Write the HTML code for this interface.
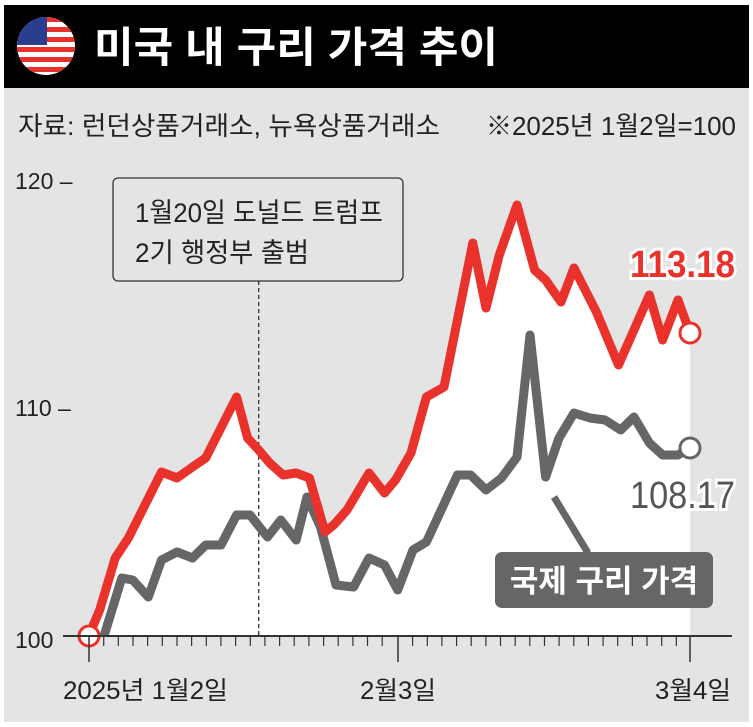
<!DOCTYPE html>
<html><head><meta charset="utf-8"><style>
body{margin:0;width:753px;height:722px;overflow:hidden;background:#fff;font-family:"Liberation Sans","Noto Sans CJK KR",sans-serif}
</style></head><body>
<svg width="753" height="722" viewBox="0 0 753 722" xmlns="http://www.w3.org/2000/svg" style="font-family:'Liberation Sans','Noto Sans CJK KR',sans-serif">
<rect x="4" y="88" width="745" height="634" fill="#e4e4e4"/>
<rect x="4" y="5" width="745" height="83" fill="#000"/>
<defs><clipPath id="fc"><circle cx="46" cy="46" r="29"/></clipPath></defs>
<g clip-path="url(#fc)">
<rect x="15" y="15" width="62" height="62" fill="#fff"/>
<g fill="#e8322b"><rect x="15" y="17" width="62" height="5"/><rect x="15" y="27" width="62" height="5"/><rect x="15" y="37" width="62" height="5"/><rect x="15" y="47" width="62" height="5"/><rect x="15" y="57" width="62" height="5"/><rect x="15" y="67" width="62" height="5"/></g>
<rect x="15" y="15" width="32" height="30" fill="#2a3d8f"/>
</g>
<text x="94" y="62" font-size="42" font-weight="bold" fill="#fff" textLength="404" lengthAdjust="spacingAndGlyphs">미국 내 구리 가격 추이</text>
<text x="18" y="135" font-size="26" fill="#222" textLength="422" lengthAdjust="spacingAndGlyphs">자료: 런던상품거래소, 뉴욕상품거래소</text>
<text x="486" y="135" font-size="26" fill="#222" textLength="250" lengthAdjust="spacingAndGlyphs">※2025년 1월2일=100</text>
<text x="15" y="189" font-size="23" fill="#222">120 –</text>
<text x="15" y="416" font-size="23" fill="#222">110 –</text>
<text x="15" y="648" font-size="23" fill="#222">100</text>
<polygon fill="#fff" points="88.7,636 99.7,610 115.2,558 128.4,538 161.5,472 177,478 192.5,467 205.7,458 236.6,397 247.6,438 258.7,450 269.7,463 283,475 296.2,473 309.4,478 325,532 333.7,525 347,510 369,473 384.5,493 395.5,480 411,453 426.4,397 444,387 472.8,243 486,308 499.3,255 517,205 534.6,270 545.6,280 561,302 574,268 596.4,312 618.5,365 649.4,295 662.6,340 678,300 690,333 690,636"/>
<line x1="258.7" y1="281" x2="258.7" y2="636" stroke="#333" stroke-width="1.3" stroke-dasharray="4,3"/>
<rect x="113" y="178" width="290" height="103" rx="5" fill="#e4e4e4" stroke="#333" stroke-width="1.3"/>
<text x="135" y="222" font-size="27" fill="#222" textLength="248" lengthAdjust="spacingAndGlyphs">1월20일 도널드 트럼프</text>
<text x="135" y="262" font-size="27" fill="#222" textLength="174" lengthAdjust="spacingAndGlyphs">2기 행정부 출범</text>
<polyline fill="none" stroke="#666" stroke-width="9" stroke-linejoin="round" points="104,636 121.8,578 132.8,580 148.3,597 161.5,560 177,552 192.5,558 205.7,545 221,545 236.6,515 250,515 267.5,537 280.8,520 296.2,540 307,497 320.5,527 336,585 353.6,587 369,558 384.5,565 397.7,590 413,550 426.4,542 457.4,475 470.6,475 486,490 501.5,478 517,457 530,335 545.6,477 559,438 574,413 590,418 605,420 620.7,430 634,417 649.4,443 662.6,455 678,455 690,448"/>
<polyline fill="none" stroke="#e8322b" stroke-width="9" stroke-linejoin="round" points="88.7,636 99.7,610 115.2,558 128.4,538 161.5,472 177,478 192.5,467 205.7,458 236.6,397 247.6,438 258.7,450 269.7,463 283,475 296.2,473 309.4,478 325,532 333.7,525 347,510 369,473 384.5,493 395.5,480 411,453 426.4,397 444,387 472.8,243 486,308 499.3,255 517,205 534.6,270 545.6,280 561,302 574,268 596.4,312 618.5,365 649.4,295 662.6,340 678,300 690,333"/>
<line x1="554" y1="497" x2="588" y2="553" stroke="#666" stroke-width="7"/>
<rect x="495" y="552" width="218" height="56" rx="7" fill="#666"/>
<text x="604" y="592" font-size="31" font-weight="bold" fill="#fff" text-anchor="middle">국제 구리 가격</text>
<circle cx="89" cy="636" r="10" fill="#fff" stroke="#e8322b" stroke-width="3"/>
<circle cx="690" cy="333" r="10" fill="#fff" stroke="#e8322b" stroke-width="3"/>
<circle cx="690" cy="448" r="10" fill="#fff" stroke="#666" stroke-width="3"/>
<text x="630" y="277" font-size="38" font-weight="bold" fill="#e8322b" stroke="#fff" stroke-width="6" paint-order="stroke" textLength="105" lengthAdjust="spacingAndGlyphs">113.18</text>
<text x="630" y="508" font-size="38" fill="#555" stroke="#fff" stroke-width="6" paint-order="stroke" textLength="105" lengthAdjust="spacingAndGlyphs">108.17</text>
<line x1="63" y1="636" x2="732" y2="636" stroke="#333" stroke-width="2"/>
<path d="M89 636V662M398 636V662M690 636V662" stroke="#333" stroke-width="1.5"/>
<path stroke="#333" stroke-width="1.2" d="M103.7 636v10M118.3 636v10M133 636v10M147.6 636v10M162.3 636v10M177 636v10M191.6 636v10M206.3 636v10M220.9 636v10M235.6 636v10M250.3 636v10M264.9 636v10M279.6 636v10M294.2 636v10M308.9 636v10M323.6 636v10M338.2 636v10M352.9 636v10M367.5 636v10M382.2 636v10M412.6 636v10M427.3 636v10M441.9 636v10M456.6 636v10M471.2 636v10M485.9 636v10M500.5 636v10M515.2 636v10M529.8 636v10M544.5 636v10M559.1 636v10M573.8 636v10M588.4 636v10M603.1 636v10M617.7 636v10M632.4 636v10M647 636v10M661.7 636v10M676.3 636v10"/>
<text x="63" y="699" font-size="25" fill="#222" textLength="165" lengthAdjust="spacingAndGlyphs">2025년 1월2일</text>
<text x="360" y="699" font-size="25" fill="#222" textLength="76" lengthAdjust="spacingAndGlyphs">2월3일</text>
<text x="655" y="699" font-size="25" fill="#222" textLength="76" lengthAdjust="spacingAndGlyphs">3월4일</text>
</svg>
</body></html>
